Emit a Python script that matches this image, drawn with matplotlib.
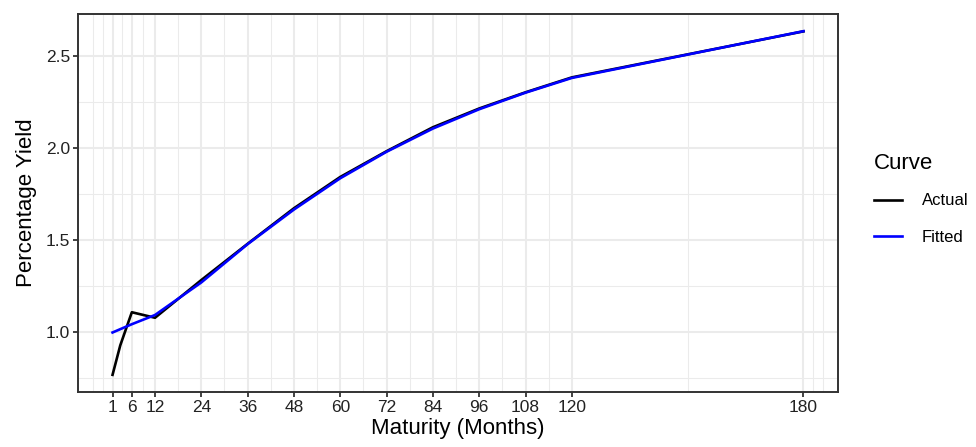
import matplotlib
matplotlib.use("Agg")
import matplotlib.pyplot as plt
from matplotlib.ticker import FixedLocator

plt.rcParams['font.family'] = ['Liberation Sans', 'DejaVu Sans']

maturity = [1, 3, 6, 12, 24, 36, 48, 60, 72, 84, 96, 108, 120, 180]
actual = [0.77, 0.93, 1.11, 1.08, 1.285, 1.482, 1.675, 1.845, 1.985, 2.115, 2.217, 2.305, 2.386, 2.636]
fitted = [1.00, 1.018, 1.045, 1.095, 1.272, 1.480, 1.668, 1.838, 1.982, 2.108, 2.213, 2.303, 2.383, 2.637]
x_breaks = [1, 6, 12, 24, 36, 48, 60, 72, 84, 96, 108, 120, 180]
x_minor = [-4, -1.5, 3.5, 9, 18, 30, 42, 54, 66, 78, 90, 102, 114, 150, 182.5, 185]
y_breaks = [1.0, 1.5, 2.0, 2.5]
y_minor = [0.75, 1.25, 1.75, 2.25]

fig = plt.figure(figsize=(9.76, 4.47), dpi=100)
ax = fig.add_axes([78/976, 1-392/447, (838-78)/976, (392-14)/447])

ax.plot(maturity, actual, color='black', lw=1.9, label='Actual', zorder=3)
ax.plot(maturity, fitted, color='blue', lw=1.9, label='Fitted', zorder=4)

xr = max(maturity) - min(maturity)
ax.set_xlim(min(maturity) - 0.05*xr, max(maturity) + 0.05*xr)
allv = actual + fitted
yr = max(allv) - min(allv)
ax.set_ylim(min(allv) - 0.05*yr, max(allv) + 0.05*yr)

ax.xaxis.set_major_locator(FixedLocator(x_breaks))
ax.xaxis.set_minor_locator(FixedLocator(x_minor))
ax.yaxis.set_major_locator(FixedLocator(y_breaks))
ax.yaxis.set_minor_locator(FixedLocator(y_minor))
ax.set_xticklabels([str(b) for b in x_breaks])
ax.set_yticklabels(['%.1f' % b for b in y_breaks])

ax.grid(which='major', color='#EBEBEB', lw=1.5, zorder=0)
ax.grid(which='minor', color='#EBEBEB', lw=0.75, zorder=0)
ax.set_axisbelow(True)
ax.tick_params(which='major', length=3.8, width=1.3, color='#333333', labelsize=12.5, labelcolor='#222222', pad=2)
ax.tick_params(which='minor', length=0)
for s in ax.spines.values():
    s.set_color('#333333')
    s.set_linewidth(1.4)

ax.set_xlabel('Maturity (Months)', fontsize=16, labelpad=2)
ax.set_ylabel('Percentage Yield', fontsize=16, labelpad=6)

leg = ax.legend(loc='upper left', bbox_to_anchor=(874/976, 1-153/447), bbox_transform=fig.transFigure,
                frameon=False, title='Curve', fontsize=12, title_fontsize=16,
                handlelength=1.7, handletextpad=1.15, labelspacing=1.3, borderaxespad=0, borderpad=0)
leg._legend_box.align = 'left'
leg._legend_box.sep = 14

fig.savefig('out.png', dpi=100)
